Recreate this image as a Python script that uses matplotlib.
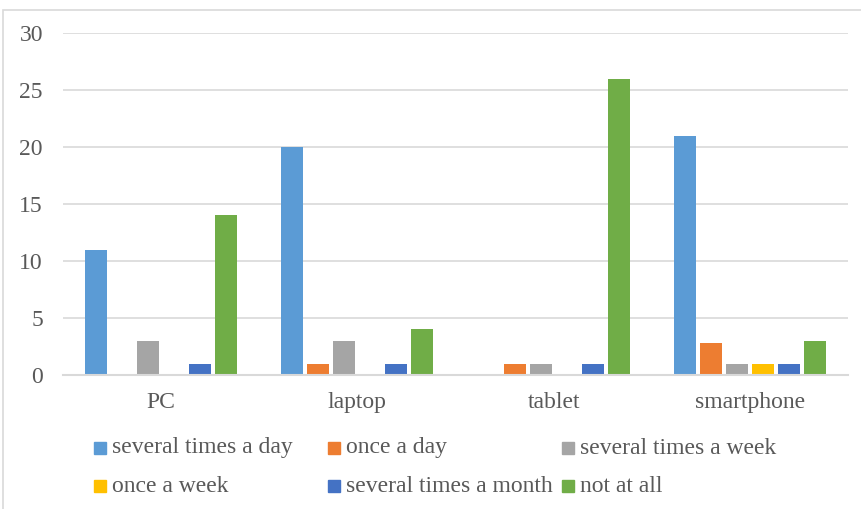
import matplotlib
matplotlib.use("Agg")
import matplotlib.pyplot as plt
from matplotlib.patches import Rectangle
import numpy as np

categories = ["PC", "laptop", "tablet", "smartphone"]
series_names = ["several times a day", "once a day", "several times a week",
                "once a week", "several times a month", "not at all"]
several_times_a_day = [11, 20, 0, 21]
once_a_day = [0, 1, 1, 2.8]
several_times_a_week = [3, 3, 1, 1]
once_a_week = [0, 0, 0, 1]
several_times_a_month = [1, 1, 1, 1]
not_at_all = [14, 4, 26, 3]
series_values = [several_times_a_day, once_a_day, several_times_a_week,
                 once_a_week, several_times_a_month, not_at_all]
colors = ["#5B9BD5", "#ED7D31", "#A5A5A5", "#FFC000", "#4472C4", "#70AD47"]
y_ticks = [0, 5, 10, 15, 20, 25, 30]

plt.rcParams["font.family"] = ["Liberation Serif", "DejaVu Serif"]
text_color = "#595959"
grid_color = "#D9D9D9"
fs = 17

W, H = 861, 509
fig = plt.figure(figsize=(W / 100, H / 100), dpi=100)
ax = fig.add_axes([63 / W, 1 - 375 / H, (848 - 63) / W, (375 - 33) / H])

x = np.arange(len(categories))
slot = 26 / 196
width = 22 / 196
for j, (vals, c) in enumerate(zip(series_values, colors)):
    ax.bar(x + (j - 2.5) * slot, vals, width=width, color=c, zorder=3)

ax.set_xlim(-0.5, len(categories) - 0.5)
ax.set_ylim(0, 30)
ax.set_yticks(y_ticks)
ax.set_xticks(x)
ax.set_xticklabels(categories)
ax.tick_params(axis="both", length=0, labelsize=fs, colors=text_color)
ax.tick_params(axis="y", pad=14.4)
ax.tick_params(axis="x", pad=12)
ax.grid(axis="y", color=grid_color, linewidth=1.2, zorder=0)
for s in ["top", "right", "left"]:
    ax.spines[s].set_visible(False)
ax.spines["bottom"].set_color(grid_color)
ax.spines["bottom"].set_linewidth(1.5)
ax.spines["bottom"].set_zorder(4)

# legend drawn as a fixed three-column grid
col_x = [94, 328, 562]
row_y = [448, 486]
sq = 12
for i, (name, c) in enumerate(zip(series_names, colors)):
    cx = col_x[i % 3]
    cy = row_y[i // 3]
    fig.patches.append(Rectangle((cx / W, 1 - (cy + sq / 2) / H), sq / W, sq / H,
                                 transform=fig.transFigure, color=c))
    fig.text((cx + sq + 6) / W, 1 - cy / H, name, fontsize=fs, color=text_color,
             va="center", ha="left")

# chart frame
fig.patches.append(Rectangle((3 / W, -0.05), 1.1, 1.05 - 10 / H,
                             transform=fig.transFigure, fill=False,
                             edgecolor=grid_color, linewidth=1.2))

fig.savefig("out.png", dpi=100)
